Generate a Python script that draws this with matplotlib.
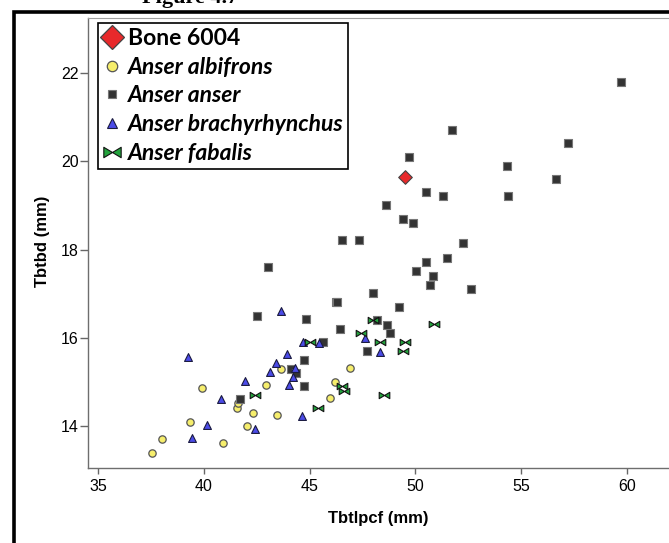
import numpy as np
import matplotlib
matplotlib.use("Agg")
import matplotlib.pyplot as plt
from matplotlib.path import Path
from matplotlib.lines import Line2D
from matplotlib.patches import Rectangle

# values
bone_x = [49.52]
bone_y = [19.65]

albifrons_x = [37.52, 38.03, 39.34, 39.89, 40.91, 41.54, 41.62, 42.05, 42.33,
               42.91, 43.46, 43.62, 45.96, 46.21, 46.90]
albifrons_y = [13.39, 13.70, 14.10, 14.87, 13.61, 14.40, 14.51, 14.00, 14.30,
               14.93, 14.25, 15.30, 14.63, 14.99, 15.31]

anser_x = [41.70, 42.49, 43.01, 44.11, 44.33, 44.73, 44.73, 44.82, 45.63, 46.22,
           46.30, 46.41, 46.52, 47.31, 47.72, 48.00, 48.19, 48.60, 48.66, 48.82,
           49.22, 49.41, 49.70, 49.89, 50.01, 50.51, 50.51, 50.70, 50.81, 51.30,
           51.50, 51.71, 52.24, 52.61, 54.31, 54.40, 56.67, 57.21, 59.70]
anser_y = [14.61, 16.50, 17.61, 15.30, 15.19, 15.50, 14.91, 16.42, 15.90, 16.80,
           16.80, 16.20, 18.21, 18.21, 15.70, 17.01, 16.40, 19.01, 16.30, 16.10,
           16.70, 18.70, 20.11, 18.60, 17.51, 19.31, 17.71, 17.20, 17.41, 19.21,
           17.80, 20.71, 18.15, 17.11, 19.90, 19.21, 19.61, 20.41, 21.81]

brachy_x = [39.26, 39.42, 40.12, 40.82, 41.92, 42.42, 43.12, 43.40, 43.62, 43.91,
            44.00, 44.21, 44.30, 44.63, 44.66, 45.45, 47.61, 48.33]
brachy_y = [15.56, 13.72, 14.02, 14.62, 15.02, 13.92, 15.22, 15.42, 16.61, 15.63,
            14.92, 15.10, 15.31, 14.23, 15.91, 15.87, 16.00, 15.67]

fabalis_x = [42.42, 45.01, 45.40, 46.52, 46.62, 47.41, 48.01, 48.32, 48.50,
             49.40, 49.52, 50.90]
fabalis_y = [14.70, 15.90, 14.41, 14.91, 14.80, 16.10, 16.40, 15.90, 14.70,
             15.70, 15.90, 16.31]

labels = ["Bone 6004", "Anser albifrons", "Anser anser",
          "Anser brachyrhynchus", "Anser fabalis"]
xticks = [35, 40, 45, 50, 55, 60]
yticks = [14, 16, 18, 20, 22]

# bow-tie marker for A. fabalis
bowtie = Path([(-1, -0.6), (-1, 0.6), (0, 0), (1, 0.6), (1, -0.6), (0, 0), (-1, -0.6)],
              [Path.MOVETO, Path.LINETO, Path.LINETO, Path.LINETO, Path.LINETO,
               Path.LINETO, Path.CLOSEPOLY])

fig = plt.figure(figsize=(6.69, 5.43), dpi=100)
ax = fig.add_axes([0.132, 0.1376, 0.868, 0.8287])

ax.scatter(albifrons_x, albifrons_y, s=28, marker="o", facecolor="#f6ee6c",
           edgecolor="#555555", linewidth=0.9, zorder=3)
ax.scatter(anser_x, anser_y, s=27, marker="s", facecolor="#333333",
           edgecolor="#777777", linewidth=0.8, zorder=3)
ax.scatter(brachy_x, brachy_y, s=32, marker="^", facecolor="#4b4be8",
           edgecolor="#1a1a40", linewidth=0.8, zorder=3)
ax.scatter(fabalis_x, fabalis_y, s=58, marker=bowtie, facecolor="#23a33d",
           edgecolor="#111111", linewidth=0.8, zorder=3)
ax.scatter(bone_x, bone_y, s=48, marker="D", facecolor="#e8292b",
           edgecolor="#444444", linewidth=0.8, zorder=4)

ax.set_xlim(34.53, 61.99)
ax.set_ylim(13.04, 23.245)
ax.set_xticks(xticks)
ax.set_yticks(yticks)
ax.tick_params(axis="x", length=4.5, width=1, color="#666666", pad=3.5,
               labelsize=11.5, labelcolor="black")
ax.tick_params(axis="y", length=6, width=1, color="#666666", pad=1,
               labelsize=11.5, labelcolor="black")
for lab in ax.get_xticklabels() + ax.get_yticklabels():
    lab.set_family("Liberation Sans")

for side in ["left", "bottom"]:
    ax.spines[side].set_color("#6e6e6e")
    ax.spines[side].set_linewidth(1.0)
ax.spines["top"].set_color("#a0a0a0")
ax.spines["top"].set_linewidth(0.8)
ax.spines["right"].set_visible(False)

ax.set_xlabel("Tbtlpcf (mm)", family="Liberation Sans", fontweight="bold", fontsize=12)
ax.set_ylabel("Tbtbd (mm)", family="Liberation Sans", fontweight="bold", fontsize=12)
ax.xaxis.set_label_coords(0.5, -0.096)
ax.yaxis.set_label_coords(-0.066, 0.504)

handles = [
    Line2D([], [], ls="none", marker="D", ms=12, mfc="#e8292b", mec="#444444", mew=0.9),
    Line2D([], [], ls="none", marker="o", ms=7.5, mfc="#f6ee6c", mec="#555555", mew=0.9),
    Line2D([], [], ls="none", marker="s", ms=6, mfc="#333333", mec="#777777", mew=0.8),
    Line2D([], [], ls="none", marker="^", ms=7.5, mfc="#4b4be8", mec="#1a1a40", mew=0.8),
    Line2D([], [], ls="none", marker=bowtie, ms=12.5, mfc="#23a33d", mec="#111111", mew=0.8),
]
leg = ax.legend(handles, labels, loc="upper left",
                bbox_to_anchor=(98.3 / 669, 1 - 23.3 / 543),
                bbox_transform=fig.transFigure, borderaxespad=0,
                frameon=True, fancybox=False, framealpha=1, edgecolor="black",
                prop={"family": "Lato", "weight": "bold", "size": 16.5},
                handlelength=0.8, handletextpad=0.3, labelspacing=0.34,
                borderpad=0.2)
leg.get_frame().set_linewidth(1.2)
for i, t in enumerate(leg.get_texts()):
    if i > 0:
        t.set_style("italic")

# thick outer frame and clipped figure caption from the page
fig.add_artist(Rectangle((13.5 / 669, -0.5), 2.0, 0.9788 + 0.5, fill=False,
                         edgecolor="black", linewidth=2.6,
                         transform=fig.transFigure, clip_on=False))
fig.text(190 / 669, 1 - 2.5 / 543, "Figure 4.7", ha="center", va="baseline",
         family="Liberation Serif", fontweight="bold", fontsize=16)

fig.savefig("out.png", dpi=100)
